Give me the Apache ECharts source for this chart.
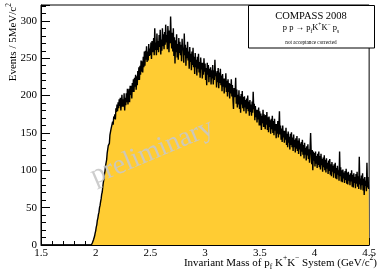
<!DOCTYPE html>
<html><head><meta charset="utf-8">
<script src="https://cdn.jsdelivr.net/npm/echarts@6/dist/echarts.min.js"></script>
<style>html,body{margin:0;padding:0;background:#fff}#c{width:379px;height:273px}</style>
</head><body><div id="c"></div>
<script>
// Histogram: invariant mass, 5 MeV bins from 1.5 to 4.5 GeV/c^2
const massMin = 1.5;
const massMax = 4.5;
const binWidth = 0.005;
const xTicks = [1.5, 2, 2.5, 3, 3.5, 4, 4.5];
const yTicks = [0, 50, 100, 150, 200, 250, 300];

const counts_1p5_2p0 = [
  0,0,0,0,0,0,0,0,0,0,0,0,0,0,0,0,0,0,0,0,
  0,0,0,0,0,0,0,0,0,0,0,0,0,0,0,0,0,0,0,0,
  0,0,0,0,0,0,0,0,0,0,0,0,0,0,0,0,0,0,0,0,
  0,0,0,0,0,0,0,0,0,0,0,0,0,0,0,0,0,0,0,0,
  0,0,0,0,0,0,0,0,0,0,0,0,1,1,3,4,7,9,12,16
];
const counts_2p0_2p5 = [
  19,24,27,33,36, 41,44,50,53,58, 62,68,71,78,84, 88,95,99,106,110,
  114,123,124,133,134, 136,147,145,155,154, 156,165,161,172,169, 175,168,183,178,188,
  179,191,183,195,186, 197,180,191,201,185, 195,185,203,180,197, 187,203,191,209,188,
  198,209,191,213,201, 213,196,217,205,222, 205,224,212,228,208, 226,214,233,221,238,
  221,240,228,247,232, 246,231,252,238,259, 240,260,248,266,245, 259,247,269,253,263
];
const counts_2p5_3p0 = [
  254,271,249,273,258, 264,277,254,290,261, 271,254,283,261,273, 258,281,265,288,255,
  275,260,290,266,282, 262,285,268,295,271, 281,262,293,277,258, 287,270,306,278,263,
  284,259,290,253,278, 243,274,258,282,251, 269,248,277,257,272, 254,268,246,276,261,
  264,244,283,254,268, 240,264,250,272,247, 259,236,265,245,256, 234,259,241,264,238,
  252,229,257,238,248, 227,252,236,256,231, 245,224,251,235,244, 223,244,228,250,232
];
const counts_3p0_3p5 = [
  243,221,237,214,244, 228,241,218,236,225, 238,215,234,223,241, 215,234,221,248,226,
  231,211,233,218,237, 210,231,217,236,214, 227,206,229,212,223, 203,223,211,230,205,
  220,199,222,205,217, 196,216,203,222,199, 214,195,182,210,198, 204,224,189,208,184,
  201,188,207,182,199, 177,202,188,206,183, 198,179,199,184,194, 176,196,182,200,179,
  192,173,194,178,188, 173,192,177,205,182, 189,167,186,171,181, 164,181,168,184,160
];
const counts_3p5_4p0 = [
  179,160,176,154,173, 163,181,158,175,165, 155,174,161,178,154, 171,151,172,158,167,
  149,169,155,173,150, 166,147,169,153,162, 143,162,149,166,144, 159,179,148,160,141,
  156,138,160,144,153, 137,153,141,157,134, 149,131,152,137,145, 128,149,134,151,131,
  144,126,148,131,141, 124,143,129,146,126, 140,122,143,128,136, 119,138,125,141,121,
  134,116,137,121,130, 113,132,120,135,115, 128,110,130,150,125, 108,127,100,125,113
];
const counts_4p0_4p5 = [
  123,105,125,109,119, 103,122,107,125,104, 119,101,122,107,115, 98,117,104,120,100,
  114,97,116,102,110, 95,113,99,115,94, 108,92,111,98,106, 90,108,96,110,89,
  103,88,106,94,100, 86,125,92,104,85, 100,84,101,89,97, 83,99,87,102,82,
  97,81,98,86,94, 80,96,85,100,78, 94,77,96,83,91, 76,95,82,98,78,
  92,75,118,81,89, 74,93,80,96,73, 89,67,91,79,86, 72,110,77,91,75
];

const counts = [].concat(counts_1p5_2p0, counts_2p0_2p5, counts_2p5_3p0,
                         counts_3p0_3p5, counts_3p5_4p0, counts_4p0_4p5);
const yMax = 321.3;

// step outline: each point is a bin's lower edge with its count
const stepData = counts.map((v, i) => [Number((massMin + i * binWidth).toFixed(4)), v]);
stepData.push([massMax, counts[counts.length - 1]]);

const serif = 'Liberation Serif';
const chart = echarts.init(document.getElementById('c'), null, {renderer: 'canvas'});

chart.setOption({
  animation: false,
  backgroundColor: '#fff',
  grid: {left: 41, right: 4, top: 5, bottom: 28, show: true, borderColor: '#000', borderWidth: 1, backgroundColor: 'transparent'},
  xAxis: {
    type: 'value', min: massMin, max: massMax, interval: 0.5,
    axisLine: {show: true, onZero: false, lineStyle: {color: '#000', width: 1}},
    axisTick: {show: true, inside: true, length: 7, lineStyle: {color: '#000'}},
    minorTick: {show: true, splitNumber: 5, length: 4, lineStyle: {color: '#000'}},
    axisLabel: {margin: 3, fontFamily: serif, fontSize: 11, color: '#000', hideOverlap: false,
      formatter: v => (xTicks.indexOf(v) >= 0 ? String(v) : '')},
    splitLine: {show: false}
  },
  yAxis: [{
    type: 'value', min: 0, max: yMax, interval: 50,
    axisLine: {show: true, lineStyle: {color: '#000', width: 1}},
    axisTick: {show: true, inside: true, length: 9, lineStyle: {color: '#000'}},
    axisLabel: {margin: 4, fontFamily: serif, fontSize: 11, color: '#000', hideOverlap: false,
      formatter: v => (yTicks.indexOf(v) >= 0 ? String(v) : '')},
    splitLine: {show: false}
  }, {
    type: 'value', min: 0, max: yMax, interval: 10, position: 'left',
    axisLine: {show: false},
    axisTick: {show: true, inside: true, length: 5, lineStyle: {color: '#000'}},
    axisLabel: {show: false},
    splitLine: {show: false}
  }],
  series: [{
    type: 'line', step: 'end', data: stepData, yAxisIndex: 0,
    symbol: 'none', showSymbol: false, clip: true,
    lineStyle: {color: '#000', width: 1.4},
    areaStyle: {color: '#FFCC33', opacity: 1},
    z: 2
  }],
  graphic: [
    {type: 'text', z: 50, x: 152, y: 152, rotation: 0.40,
      style: {text: 'preliminary', font: '28px "Liberation Serif"', fill: 'rgba(200,200,200,0.9)', align: 'center', verticalAlign: 'middle'}},
    {type: 'rect', z: 60, shape: {x: 248.5, y: 5.5, width: 126, height: 42.5},
      style: {fill: '#fff', stroke: '#000', lineWidth: 1}},
    {type: 'text', z: 61, x: 311, y: 16,
      style: {text: 'COMPASS 2008', font: '10.5px "Liberation Serif"', fill: '#000', align: 'center', verticalAlign: 'middle'}},
    {type: 'text', z: 61, x: 311, y: 28,
      style: {text: '{a|p p \u2192 p}{s|f}{a|K}{p|+}{a|K}{p|\u2212}{a| p}{s|s}', align: 'center', verticalAlign: 'middle',
        rich: {
          a: {fontFamily: serif, fontSize: 8.5, lineHeight: 13, verticalAlign: 'middle', fill: '#000'},
          p: {fontFamily: serif, fontSize: 5.5, lineHeight: 6, verticalAlign: 'top', fill: '#000'},
          s: {fontFamily: serif, fontSize: 5.5, lineHeight: 6, verticalAlign: 'bottom', fill: '#000'}
        }}},
    {type: 'text', z: 61, x: 311, y: 43,
      style: {text: 'not acceptance corrected', font: '5.2px "Liberation Serif"', fill: '#000', align: 'center', verticalAlign: 'middle'}},
    {type: 'text', z: 61, x: 377, y: 263,
      style: {text: '{a|Invariant Mass of p}{s|f}{a| K}{p|+}{a|K}{p|\u2212}{a| System (GeV/c}{p|2}{a|)}', align: 'right', verticalAlign: 'middle',
        rich: {
          a: {fontFamily: serif, fontSize: 11, lineHeight: 17, verticalAlign: 'middle', fill: '#000'},
          p: {fontFamily: serif, fontSize: 7.5, lineHeight: 8, verticalAlign: 'top', fill: '#000'},
          s: {fontFamily: serif, fontSize: 7.5, lineHeight: 8, verticalAlign: 'bottom', fill: '#000'}
        }}},
    {type: 'text', z: 61, x: 13, y: 3, rotation: Math.PI / 2,
      style: {text: '{a|Events / 5MeV/c}{p|2}', align: 'right', verticalAlign: 'middle',
        rich: {
          a: {fontFamily: serif, fontSize: 11, lineHeight: 15, verticalAlign: 'middle', fill: '#000'},
          p: {fontFamily: serif, fontSize: 7.5, lineHeight: 8, verticalAlign: 'top', fill: '#000'}
        }}}
  ]
});
</script></body></html>
